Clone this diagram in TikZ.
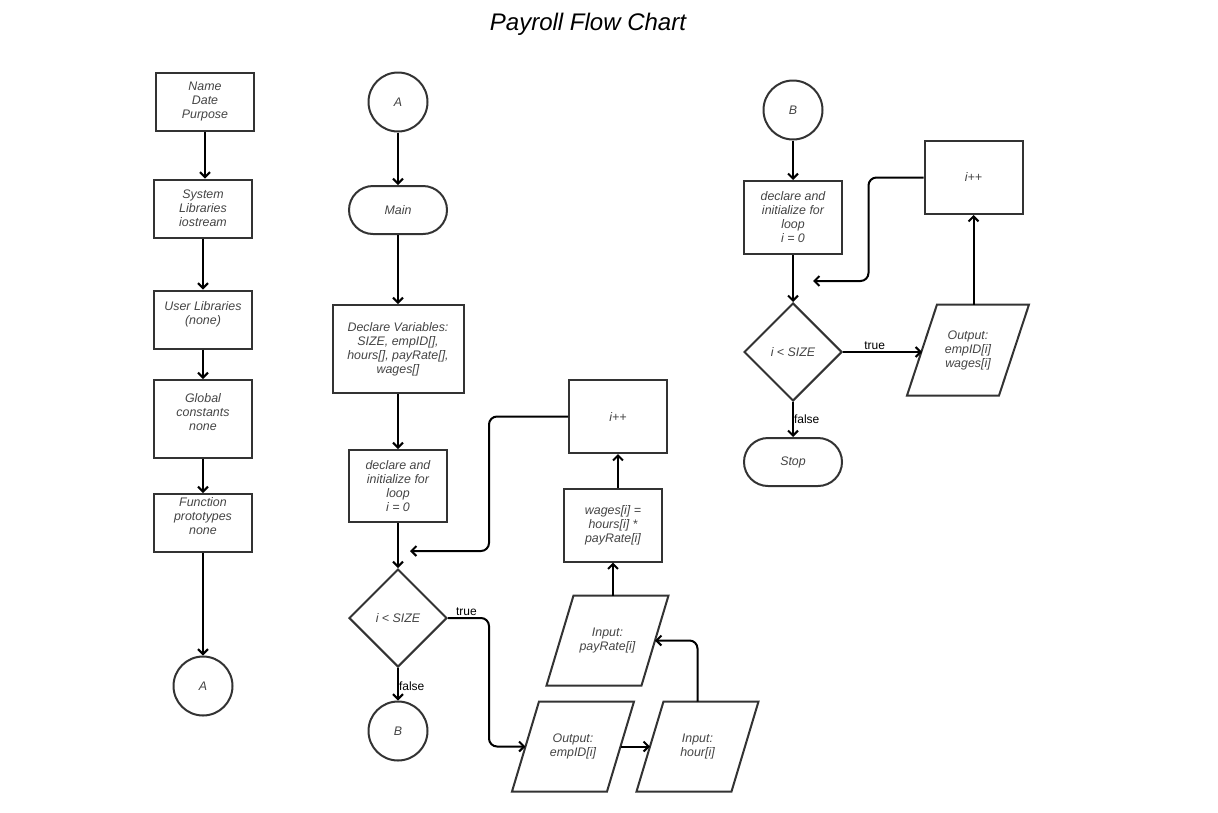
\documentclass[tikz,border=0pt]{standalone}
\usepackage{fontspec}
\setmainfont{Liberation Sans}
\usetikzlibrary{shapes.geometric,arrows.meta}
\definecolor{bd}{HTML}{333333}
\definecolor{tx}{HTML}{444444}
\tikzset{
  base/.style={draw=bd, line width=2pt, text=tx, font=\itshape\fontsize{12.4}{14}\selectfont, align=center, inner sep=2pt},
  box/.style={base, rectangle, minimum width=98pt, minimum height=58pt},
  term/.style={base, rectangle, rounded corners=24pt, minimum width=98pt, minimum height=48pt},
  conn/.style={base, circle, minimum size=59pt, inner sep=0pt},
  dec/.style={base, diamond, minimum width=98pt, minimum height=98pt, inner sep=0pt},
  para/.style={base, draw=none, rectangle, minimum width=93pt, minimum height=88pt,
    append after command={\pgfextra{\draw[draw=bd, line width=2pt, line join=miter]
      ([xshift=-#1]\tikzlastnode.south west) -- ([xshift=#1]\tikzlastnode.north west) --
      ([xshift=#1]\tikzlastnode.north east) -- ([xshift=-#1]\tikzlastnode.south east) -- cycle;}}},
  para/.default=13.5pt,
  arr/.style={draw=black, line width=2pt, -{Straight Barb[length=5pt,width=10pt]}},
  lbl/.style={font=\fontsize{12}{14}\selectfont, text=black, inner sep=1pt}
}
\begin{document}
\begin{tikzpicture}[x=1pt,y=-1pt]
\useasboundingbox (0,0) rectangle (1218,812);
\node[font=\itshape\fontsize{24}{28}\selectfont] (title) at (588,24) {Payroll Flow Chart};
% left column
\node[box] (n1) at (205,101.5) {Name\\Date\\Purpose};
\node[box] (n2) at (203,208.5) {System\\Libraries\\iostream};
\node[box] (n3) at (203,319.5) {User Libraries\\(none)\\\mbox{}};
\node[box, minimum height=78pt] (n4) at (203,419) {Global\\constants\\none\\\mbox{}};
\node[box] (n5) at (203,523) {Function\\prototypes\\none\\\mbox{}};
\node[conn] (a1) at (203,686) {A};
\draw[arr] (n1.south) -- (n1.south |- n2.north);
\draw[arr] (n2) -- (n3);
\draw[arr] (n3) -- (n4);
\draw[arr] (n4) -- (n5);
\draw[arr] (n5) -- (a1);
% middle column
\node[conn] (a2) at (398,102) {A};
\node[term] (main) at (398,210) {Main};
\node[box, minimum width=131pt, minimum height=88pt] (decl) at (398,349) {Declare Variables:\\SIZE, empID[],\\hours[], payRate[],\\wages[]};
\node[box, minimum height=72pt] (init1) at (398,486) {declare and\\initialize for\\loop\\i = 0};
\node[dec] (d1) at (398,618) {i < SIZE};
\node[conn] (b1) at (398,731) {B};
\node[para] (out1) at (573,746.5) {Output:\\empID[i]};
\node[para] (hour) at (697.5,746.5) {Input:\\hour[i]};
\node[para] (pay) at (607.5,640.5) {Input:\\payRate[i]};
\node[box, minimum height=73pt] (wages) at (613,525) {wages[i] =\\hours[i] *\\payRate[i]};
\node[box, minimum height=73pt] (ipp1) at (618,416.5) {i++};
\coordinate (l1) at (410,551);
\draw[arr] (a2) -- (main);
\draw[arr] (main) -- (decl);
\draw[arr] (decl) -- (init1);
\draw[arr] (init1) -- (d1);
\draw[arr] (d1.south) -- node[lbl, right, xshift=-1pt, pos=0.55] {false} (b1.north);
\draw[arr, rounded corners=8pt] (d1.east) -- node[lbl, above, pos=0.45] {true} ++(41,0) |- (out1.west);
\draw[arr] (out1.east) -- (hour.west);
\draw[arr, rounded corners=8pt] (hour.north) |- (pay.east);
\draw[arr] (wages.south |- pay.north) -- (wages.south);
\draw[arr] (ipp1.south |- wages.north) -- (ipp1.south);
\draw[arr, rounded corners=8pt] (ipp1.west) -- ++(-79,0) |- (l1);
% right column
\node[conn] (b2) at (793,110) {B};
\node[box, minimum height=73pt] (init2) at (793,217.5) {declare and\\initialize for\\loop\\i = 0};
\node[dec] (d2) at (793,352) {i < SIZE};
\node[term] (stop) at (793,462) {Stop};
\node[para=15pt, minimum width=90pt, minimum height=89pt] (out2) at (968,350) {Output:\\empID[i]\\wages[i]};
\node[box, minimum height=73pt] (ipp2) at (973.5,177.5) {i++};
\coordinate (l2) at (813,281);
\draw[arr] (b2) -- (init2);
\draw[arr] (init2) -- (d2);
\draw[arr] (d2.east) -- node[lbl, above, pos=0.4] {true} (d2.east -| out2.west);
\draw[arr] (d2.south) -- node[lbl, right, xshift=-1pt] {false} (stop.north);
\draw[arr] (ipp2.south |- out2.north) -- (ipp2.south);
\draw[arr, rounded corners=8pt] (ipp2.west) -- ++(-55,0) |- (l2);
\end{tikzpicture}
\end{document}
